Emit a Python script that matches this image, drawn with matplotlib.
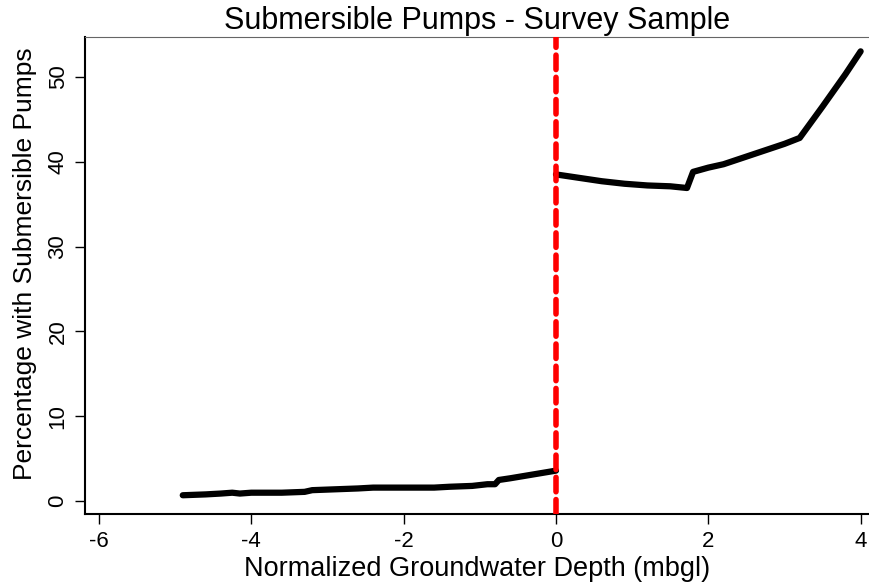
import matplotlib.pyplot as plt

plt.rcParams['font.family'] = ['Liberation Sans', 'DejaVu Sans']
plt.rcParams['axes.unicode_minus'] = False

# Below the threshold (negative normalized depth)
x_left = [-4.9, -4.6, -4.4, -4.25, -4.15, -4.0, -3.6, -3.3, -3.2, -2.9, -2.6, -2.4,
          -2.0, -1.6, -1.4, -1.1, -0.9, -0.8, -0.75, -0.6, -0.4, -0.2, 0.0]
y_left = [0.7, 0.8, 0.9, 1.0, 0.9, 1.0, 1.0, 1.1, 1.3, 1.4, 1.5, 1.6,
          1.6, 1.6, 1.7, 1.8, 2.0, 2.0, 2.5, 2.7, 3.0, 3.3, 3.6]

# Above the threshold
x_right = [0.0, 0.3, 0.6, 0.9, 1.2, 1.5, 1.72, 1.8, 2.0, 2.2, 2.5, 2.8, 3.0, 3.2, 3.5, 3.8, 4.0]
y_right = [38.5, 38.1, 37.7, 37.4, 37.2, 37.1, 36.9, 38.8, 39.3, 39.7, 40.6, 41.5, 42.1, 42.8, 46.5, 50.3, 53.0]

xticks = [-6, -4, -2, 0, 2, 4]
yticks = [0, 10, 20, 30, 40, 50]

fig = plt.figure(figsize=(8.7, 5.86), dpi=100)
ax = fig.add_axes([0.098, 0.123, 0.900, 0.814])

ax.plot(x_left, y_left, color='black', linewidth=4.5, solid_capstyle='round', zorder=3)
ax.plot(x_right, y_right, color='black', linewidth=4.5, solid_capstyle='round', zorder=3)
ax.axvline(0, color='#ff0000', linewidth=4, linestyle=(0, (2.6, 1.4)),
           dash_capstyle='round', zorder=4)

ax.set_xlim(-6.18, 4.1)
ax.set_ylim(-1.5, 54.7)
ax.set_xticks(xticks)
ax.set_yticks(yticks)
ax.tick_params(axis='both', labelsize=16, length=7, width=1, color='black', pad=5)
for lbl in ax.get_yticklabels():
    lbl.set_rotation(90)
    lbl.set_va('center')

ax.spines['right'].set_visible(False)
ax.spines['top'].set_color('#666666')
ax.spines['left'].set_linewidth(1.5)
ax.spines['bottom'].set_linewidth(1.5)

ax.set_title('Submersible Pumps - Survey Sample', fontsize=22, pad=6)
ax.set_xlabel('Normalized Groundwater Depth (mbgl)', fontsize=19.5, labelpad=3)
ax.set_ylabel('Percentage with Submersible Pumps', fontsize=19)
ax.yaxis.set_label_coords(-0.062, 0.525)

fig.savefig('out.png', dpi=100)
